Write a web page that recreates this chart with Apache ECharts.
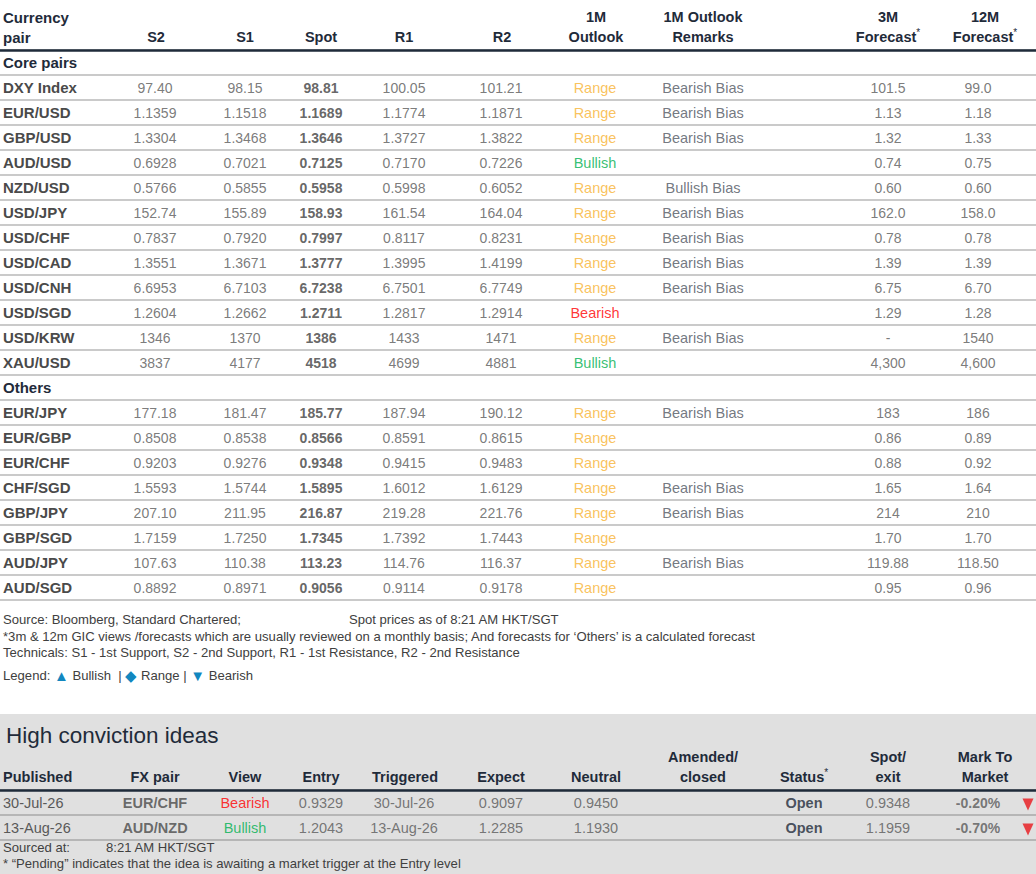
<!DOCTYPE html>
<html><head><meta charset="utf-8">
<script src="https://cdn.jsdelivr.net/npm/echarts@6/dist/echarts.min.js"></script>
<style>html,body{margin:0;padding:0;background:#fff}#c{width:1036px;height:874px}</style>
</head><body><div id="c"></div>
<script>
// ---------- DATA ----------
const rowLabels = ['Core pairs','DXY Index','EUR/USD','GBP/USD','AUD/USD','NZD/USD','USD/JPY','USD/CHF','USD/CAD','USD/CNH','USD/SGD','USD/KRW','XAU/USD',
  'Others','EUR/JPY','EUR/GBP','EUR/CHF','CHF/SGD','GBP/JPY','GBP/SGD','AUD/JPY','AUD/SGD'];
const sectionRows = ['Core pairs','Others'];
const s2   = [null,'97.40','1.1359','1.3304','0.6928','0.5766','152.74','0.7837','1.3551','6.6953','1.2604','1346','3837',
  null,'177.18','0.8508','0.9203','1.5593','207.10','1.7159','107.63','0.8892'];
const s1   = [null,'98.15','1.1518','1.3468','0.7021','0.5855','155.89','0.7920','1.3671','6.7103','1.2662','1370','4177',
  null,'181.47','0.8538','0.9276','1.5744','211.95','1.7250','110.38','0.8971'];
const spot = [null,'98.81','1.1689','1.3646','0.7125','0.5958','158.93','0.7997','1.3777','6.7238','1.2711','1386','4518',
  null,'185.77','0.8566','0.9348','1.5895','216.87','1.7345','113.23','0.9056'];
const r1   = [null,'100.05','1.1774','1.3727','0.7170','0.5998','161.54','0.8117','1.3995','6.7501','1.2817','1433','4699',
  null,'187.94','0.8591','0.9415','1.6012','219.28','1.7392','114.76','0.9114'];
const r2   = [null,'101.21','1.1871','1.3822','0.7226','0.6052','164.04','0.8231','1.4199','6.7749','1.2914','1471','4881',
  null,'190.12','0.8615','0.9483','1.6129','221.76','1.7443','116.37','0.9178'];
const outlook = [null,'Range','Range','Range','Bullish','Range','Range','Range','Range','Range','Bearish','Range','Bullish',
  null,'Range','Range','Range','Range','Range','Range','Range','Range'];
const remarks = [null,'Bearish Bias','Bearish Bias','Bearish Bias','','Bullish Bias','Bearish Bias','Bearish Bias','Bearish Bias','Bearish Bias','','Bearish Bias','',
  null,'Bearish Bias','','','Bearish Bias','Bearish Bias','','Bearish Bias',''];
const fc3m  = [null,'101.5','1.13','1.32','0.74','0.60','162.0','0.78','1.39','6.75','1.29','-','4,300',
  null,'183','0.86','0.88','1.65','214','1.70','119.88','0.95'];
const fc12m = [null,'99.0','1.18','1.33','0.75','0.60','158.0','0.78','1.39','6.70','1.28','1540','4,600',
  null,'186','0.89','0.92','1.64','210','1.70','118.50','0.96'];
const topHeaders = ['S2','S1','Spot','R1','R2','1M\nOutlook','1M Outlook\nRemarks','3M\nForecast{s|*}','12M\nForecast{s|*}'];

// High conviction ideas
const published = ['30-Jul-26','13-Aug-26'];
const fxPair    = ['EUR/CHF','AUD/NZD'];
const view      = ['Bearish','Bullish'];
const entry     = ['0.9329','1.2043'];
const triggered = ['30-Jul-26','13-Aug-26'];
const expect    = ['0.9097','1.2285'];
const neutral   = ['0.9450','1.1930'];
const amended   = ['',''];
const status    = ['Open','Open'];
const spotExit  = ['0.9348','1.1959'];
const mtm       = ['-0.20%','-0.70%'];
const mtmTrend  = ['down','down'];
const hciHeaders = ['FX pair','View','Entry','Triggered','Expect','Neutral','Amended/\nclosed','Status{s|*}','Spot/\nexit','Mark To\nMarket'];

// ---------- LAYOUT / STYLE ----------
const FONT = '"Liberation Sans", Arial, sans-serif';
const NAVY = '#1f2b3a';
const GREY = '#595959';
const outlookColors = { Range: '#f8b333', Bullish: '#00b050', Bearish: '#ff0000' };
const topHeaderX = [156, 245, 321, 404, 502, 596, 703, 888, 985];
const topColX = [155, 245, 321, 404, 501, 595, 703, 888, 978];
const hciHeaderX = [155, 245, 321, 405, 501, 596, 703, 804, 888, 985];
const hciColX = [155, 245, 321, 404, 501, 596, 703, 804, 888, 978];
const trendX = 1028;

function textSeries(axisIdx, x, values, opt) {
  const data = [];
  values.forEach((v, i) => {
    if (v === null || v === '') return;
    const item = { name: v, value: [x, i] };
    if (opt.colorMap) item.label = { color: opt.colorMap[v] };
    data.push(item);
  });
  return {
    type: 'scatter', xAxisIndex: axisIdx, yAxisIndex: axisIdx,
    symbolSize: 1, itemStyle: { color: 'rgba(0,0,0,0)' },
    silent: true, animation: false, z: 3,
    label: {
      show: true, position: 'inside', formatter: '{b}',
      fontFamily: FONT, fontSize: opt.size || 14,
      fontWeight: opt.bold ? 'bold' : 'normal',
      color: opt.color || GREY
    },
    data
  };
}

const series = [
  textSeries(0, topColX[0], s2, {}),
  textSeries(0, topColX[1], s1, {}),
  textSeries(0, topColX[2], spot, { bold: true, color: '#404040' }),
  textSeries(0, topColX[3], r1, {}),
  textSeries(0, topColX[4], r2, {}),
  textSeries(0, topColX[5], outlook, { size: 14.5, colorMap: outlookColors }),
  textSeries(0, topColX[6], remarks, { size: 14.5, color: '#50565f' }),
  textSeries(0, topColX[7], fc3m, {}),
  textSeries(0, topColX[8], fc12m, {}),
  textSeries(1, hciColX[0], fxPair, { bold: true, size: 14.5, color: '#4a4a4a' }),
  textSeries(1, hciColX[1], view, { size: 14.5, colorMap: outlookColors }),
  textSeries(1, hciColX[2], entry, { size: 14.5 }),
  textSeries(1, hciColX[3], triggered, { size: 14.5 }),
  textSeries(1, hciColX[4], expect, { size: 14.5 }),
  textSeries(1, hciColX[5], neutral, { size: 14.5 }),
  textSeries(1, hciColX[6], amended, { size: 14.5 }),
  textSeries(1, hciColX[7], status, { bold: true, size: 14.5, color: NAVY }),
  textSeries(1, hciColX[8], spotExit, { size: 14.5 }),
  textSeries(1, hciColX[9], mtm, { bold: true, size: 14, color: '#5a5a5a' }),
  {
    type: 'scatter', xAxisIndex: 1, yAxisIndex: 1, silent: true, animation: false, z: 3,
    symbol: 'triangle', symbolSize: [11, 12], symbolOffset: [0, 2],
    itemStyle: { color: '#e8161c' },
    data: mtmTrend.map((t, i) => ({ value: [trendX, i], symbolRotate: t === 'down' ? 180 : 0 }))
  }
];

function headerAxis(gridIndex, xs, labels) {
  return {
    gridIndex, type: 'value', min: 0, max: 1036, position: 'top', z: 5,
    axisLine: { show: true, onZero: false, lineStyle: { color: NAVY, width: 2.5 } },
    axisTick: { show: false }, splitLine: { show: false },
    axisLabel: {
      show: true, customValues: xs,
      formatter: v => labels[xs.indexOf(v)] || '',
      fontFamily: FONT, fontSize: 14.5, fontWeight: 'bold', color: NAVY,
      lineHeight: 20, margin: 3, align: 'center',
      rich: { s: { fontFamily: FONT, fontSize: 10, fontWeight: 'normal', color: NAVY, lineHeight: 20, verticalAlign: 'top', padding: [0, 0, 0, 0] } }
    }
  };
}

const footStyle = { fontFamily: FONT, fontSize: 13.1, fontWeight: 'normal', color: '#404040', lineHeight: 16.5 };

const option = {
  backgroundColor: '#ffffff',
  animation: false,
  textStyle: { fontFamily: FONT },
  graphic: [{
    type: 'rect', z: -100, silent: true,
    shape: { x: 0, y: 714, width: 1036, height: 160 },
    style: { fill: '#e0e0e0' }
  }],
  title: [
    { text: 'Currency\npair', left: 3, top: 7, padding: 0,
      textStyle: { fontFamily: FONT, fontSize: 15, fontWeight: 'bold', color: NAVY, lineHeight: 20 } },
    { text: 'Source: Bloomberg, Standard Chartered;\n*3m & 12m GIC views /forecasts which are usually reviewed on a monthly basis; And forecasts for \u2018Others\u2019 is a calculated forecast\nTechnicals: S1 - 1st Support, S2 - 2nd Support, R1 - 1st Resistance, R2 - 2nd Resistance',
      left: 3, top: 611.5, padding: 0, textStyle: footStyle },
    { text: 'Spot prices as of 8:21 AM HKT/SGT', left: 349, top: 611.5, padding: 0, textStyle: footStyle },
    { text: 'Legend: {t|\u25B2} Bullish  | {t|\u25C6} Range | {t|\u25BC} Bearish', left: 3, top: 667, padding: 0,
      textStyle: Object.assign({}, footStyle, { rich: { t: { color: '#1287bf', fontSize: 15, fontFamily: FONT, lineHeight: 16.5 } } }) },
    { text: 'High conviction ideas', left: 6, top: 722, padding: 0,
      textStyle: { fontFamily: FONT, fontSize: 22.5, fontWeight: 'normal', color: NAVY, lineHeight: 26 } },
    { text: 'Published', left: 3, top: 767, padding: 0,
      textStyle: { fontFamily: FONT, fontSize: 14.5, fontWeight: 'bold', color: NAVY, lineHeight: 20 } },
    { text: 'Sourced at:', left: 3, top: 839, padding: 0, textStyle: Object.assign({}, footStyle, { lineHeight: 16 }) },
    { text: '8:21 AM HKT/SGT', left: 106, top: 839, padding: 0, textStyle: Object.assign({}, footStyle, { lineHeight: 16 }) },
    { text: '* \u201CPending\u201D indicates that the idea is awaiting a market trigger at the Entry level', left: 3, top: 855, padding: 0,
      textStyle: Object.assign({}, footStyle, { lineHeight: 16 }) }
  ],
  grid: [
    { left: 0, right: 0, top: 50, height: 550, containLabel: false },
    { left: 0, right: 0, top: 790, height: 50, containLabel: false }
  ],
  xAxis: [ headerAxis(0, topHeaderX, topHeaders), headerAxis(1, hciHeaderX, hciHeaders) ],
  yAxis: [
    { gridIndex: 0, type: 'category', data: rowLabels, inverse: true,
      axisLine: { show: false }, axisTick: { show: false },
      splitLine: { show: true, interval: 0, lineStyle: { color: '#b9b9b9', width: 1.5 } },
      axisLabel: { inside: true, margin: 3, interval: 0, fontFamily: FONT, fontSize: 15, fontWeight: 'bold',
        color: v => sectionRows.indexOf(v) >= 0 ? NAVY : '#4a4a4a' } },
    { gridIndex: 1, type: 'category', data: published, inverse: true,
      axisLine: { show: false }, axisTick: { show: false },
      splitLine: { show: true, interval: 0, lineStyle: { color: '#a9a9a9', width: 1.5 } },
      axisLabel: { inside: true, margin: 3, interval: 0, fontFamily: FONT, fontSize: 14.5, fontWeight: 'normal', color: GREY } }
  ],
  series
};

const chart = echarts.init(document.getElementById('c'), null, { renderer: 'svg', width: 1036, height: 874 });
chart.setOption(option);
</script>
</body></html>
